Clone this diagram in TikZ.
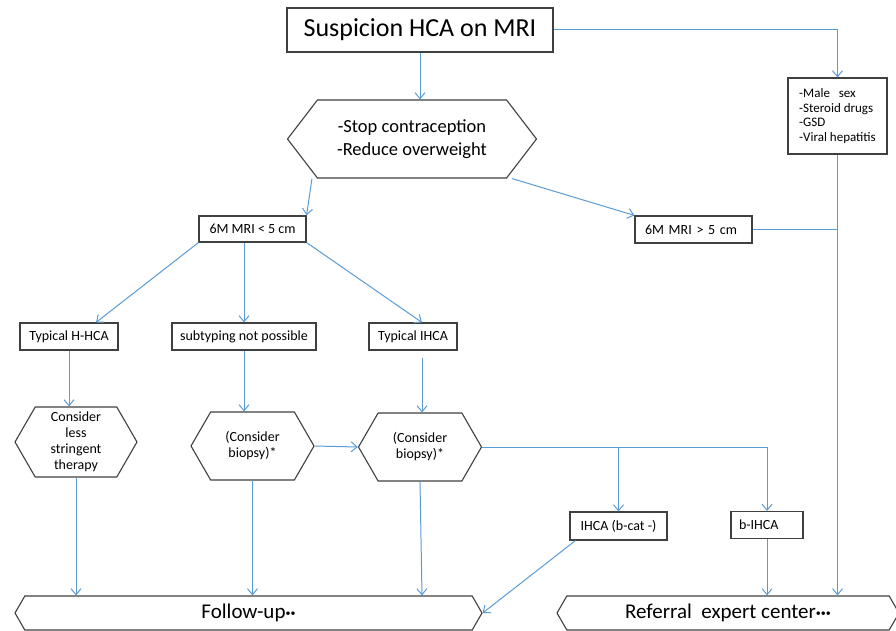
\documentclass[tikz,border=0pt]{standalone}
\usepackage{fontspec}
\setmainfont{Carlito}
\usepackage{xcolor}
\usepackage{tikz}
\usetikzlibrary{arrows.meta,positioning,shapes.symbols}
\definecolor{linkblue}{HTML}{5B9BD5}
\newcommand{\bul}{\raisebox{2pt}{\fontsize{10}{10}\selectfont\textbullet}}

\begin{document}
\begin{tikzpicture}[x=1pt, y=-1pt,
	box/.style={draw=black!75, line width=1.1pt, fill=white, inner sep=0pt},
	hexa/.style={box, signal, signal to=west and east, signal pointer angle=120, align=center},
	small/.style={font=\fontsize{14}{16}\selectfont},
	large/.style={font=\fontsize{21}{25}\selectfont},
	flow/.style={draw=linkblue, line width=1pt, -{Straight Barb[length=6pt,width=10pt]}},
	link/.style={draw=linkblue, line width=1pt}]
	\useasboundingbox (0,0) rectangle (896,631);
	% top
	\node[box, minimum width=266pt, minimum height=44pt, font=\fontsize{26}{30}\selectfont] (susp) at (420,30) {Suspicion HCA on MRI};
	\node[hexa, signal pointer angle=105, minimum width=249pt, minimum height=78pt, font=\fontsize{18.5}{23}\selectfont] (stop) at (412,139) {-Stop contraception\\-Reduce overweight};
	\node[box, minimum width=99pt, minimum height=76pt, align=left, font=\fontsize{13}{14.5}\selectfont] (risk) at (837.5,116) {-Male\ \ \ sex\\-Steroid drugs\\-GSD\\-Viral hepatitis};
	% size after 6 months
	\node[box, small, minimum width=107pt, minimum height=26pt] (small) at (252.5,229) {6M MRI < 5 cm};
	\node[box, small, minimum width=117pt, minimum height=27pt, text width=97pt, align=left] (big) at (693.5,229.5) {6M MRI > 5 cm};
	% subtypes
	\node[box, small, minimum width=98pt, minimum height=27pt] (hhca) at (69,336.5) {Typical H-HCA};
	\node[box, small, minimum width=144pt, minimum height=27pt] (nosub) at (244,336.5) {subtyping not possible};
	\node[box, small, minimum width=88pt, minimum height=27pt] (ihca) at (413,336.5) {Typical IHCA};
	\node[hexa, small, minimum width=122pt, minimum height=70pt] (less) at (76,442) {Consider\\less\\stringent\\therapy};
	\node[hexa, small, minimum width=123pt, minimum height=68pt] (bio1) at (252.5,446) {(Consider\\biopsy)*};
	\node[hexa, small, minimum width=123pt, minimum height=68pt] (bio2) at (420,447) {(Consider\\biopsy)*};
	\node[box, small, minimum width=97pt, minimum height=28pt] (bcat) at (618.5,526) {IHCA (b-cat -)};
	\node[box, small, minimum width=72pt, minimum height=27pt, text width=56pt, align=left] (bihca) at (767,525) {b-IHCA};
	% outcome
	\node[hexa, large, minimum width=467pt, minimum height=34pt] (follow) at (248.5,613) {Follow-up\bul\bul};
	\node[hexa, large, minimum width=342pt, minimum height=34pt] (refer) at (728,613) {Referral\ \ expert center\bul\bul\bul};
	% connectors
	\draw[flow] (susp.south) -- (susp.south |- stop.north);
	\draw[flow] (susp.east) -| (risk.north);
	\draw[flow] (risk.south) -- (risk.south |- refer.north);
	\draw[link] (big.east) -- (risk.south |- big.east);
	\draw[flow] ([xshift=-100pt]stop.south) -- (small.north east);
	\draw[flow] ([xshift=100pt]stop.south) -- (big.north west);
	\draw[flow] (small.south west) -- ([xshift=27pt]hhca.north);
	\draw[flow] (nosub.north |- small.south) -- (nosub.north);
	\draw[flow] (small.south east) -- ([xshift=9pt]ihca.north);
	\draw[flow] (hhca.south) -- (hhca.south |- less.north);
	\draw[flow] (nosub.south) -- (nosub.south |- bio1.north);
	\draw[flow] ([xshift=9pt,yshift=-7pt]ihca.south) -- ([xshift=9pt]ihca.south |- bio2.north);
	\draw[flow] (bio1.east) -- (bio2.west);
	\draw[link] (bio2.east) -- (bihca.north |- bio2.east);
	\draw[flow] (bcat.north |- bio2.east) -- (bcat.north);
	\draw[flow] (bihca.north |- bio2.east) -- (bihca.north);
	\draw[flow] (bihca.south) -- (bihca.south |- refer.north);
	\draw[flow] (less.south) -- (less.south |- follow.north);
	\draw[flow] (bio1.south) -- (bio1.south |- follow.north);
	\draw[flow] (bio2.south) -- ([xshift=2pt]bio2.south |- follow.north);
	\draw[flow] ([xshift=6pt]bcat.south west) -- (follow.east);
\end{tikzpicture}
\end{document}
